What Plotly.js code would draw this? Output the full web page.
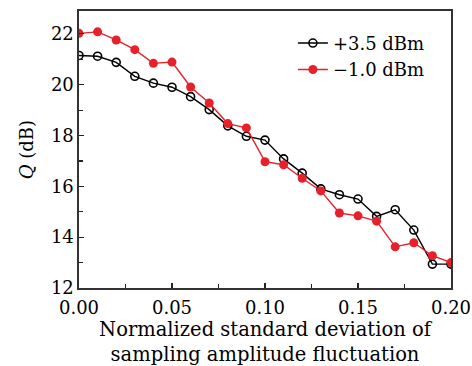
<!DOCTYPE html>
<html>
<head>
<meta charset="utf-8">
<script src="https://cdn.plot.ly/plotly-3.0.1.min.js"></script>
<style>html,body{margin:0;padding:0;background:#fff;}#chart{width:472px;height:366px;}</style>
</head>
<body>
<div id="chart"></div>
<script>
const xValues = [0.00, 0.01, 0.02, 0.03, 0.04, 0.05, 0.06, 0.07, 0.08, 0.09, 0.10, 0.11, 0.12, 0.13, 0.14, 0.15, 0.16, 0.17, 0.18, 0.19, 0.20];
const qPlus35 = [21.15, 21.12, 20.88, 20.33, 20.06, 19.9, 19.53, 19.02, 18.38, 17.97, 17.82, 17.08, 16.52, 15.9, 15.67, 15.5, 14.82, 15.08, 14.28, 12.94, 12.94];
const qMinus10 = [22.02, 22.08, 21.76, 21.38, 20.84, 20.89, 19.91, 19.28, 18.47, 18.3, 16.97, 16.85, 16.32, 15.82, 14.95, 14.84, 14.63, 13.62, 13.78, 13.27, 13.0];
const seriesNames = ['+3.5 dBm', '\u22121.0 dBm'];
const xTickVals = [0, 0.05, 0.10, 0.15, 0.20];
const xTickText = ['0.00', '0.05', '0.10', '0.15', '0.20'];
const yTickVals = [12, 14, 16, 18, 20, 22];

const font = 'DejaVu Serif, Liberation Serif, serif';

const traces = [
  {
    x: xValues, y: qPlus35, name: seriesNames[0], type: 'scatter', mode: 'lines+markers',
    line: {color: '#000000', width: 1.4},
    marker: {symbol: 'circle-open', size: 8, color: '#000000', line: {width: 1.6, color: '#000000'}}
  },
  {
    x: xValues, y: qMinus10, name: seriesNames[1], type: 'scatter', mode: 'lines+markers',
    line: {color: '#e8202a', width: 1.4},
    marker: {symbol: 'circle', size: 9, color: '#e8202a'}
  }
];

const layout = {
  width: 472, height: 366,
  margin: {l: 79, r: 21, t: 11, b: 78},
  paper_bgcolor: '#ffffff', plot_bgcolor: '#ffffff',
  font: {family: font, size: 18, color: '#000'},
  showlegend: true,
  legend: {x: 0.575, y: 0.95, xanchor: 'left', yanchor: 'top', bgcolor: 'rgba(0,0,0,0)',
           font: {family: font, size: 18}, tracegroupgap: 0},
  xaxis: {
    range: [0, 0.2], tickvals: xTickVals, ticktext: xTickText,
    ticks: 'inside', ticklen: 5, tickwidth: 1.2, tickcolor: '#222',
    ticklabelstandoff: 3,
    minor: {dtick: 0.025, ticks: 'inside', ticklen: 4, tickcolor: '#222', tickwidth: 1.2},
    showline: true, linecolor: '#333', linewidth: 1.6, mirror: true,
    showgrid: false, zeroline: false,
    tickfont: {family: font, size: 18},
    title: {text: 'Normalized standard deviation of<br>sampling amplitude fluctuation',
            font: {family: font, size: 19.5}, standoff: 12}
  },
  yaxis: {
    range: [12, 22.9], tickvals: yTickVals,
    ticks: 'inside', ticklen: 5, tickwidth: 1.2, tickcolor: '#222',
    minor: {dtick: 1, ticks: 'inside', ticklen: 4, tickcolor: '#222', tickwidth: 1.2},
    showline: true, linecolor: '#333', linewidth: 1.6, mirror: true,
    showgrid: false, zeroline: false,
    tickfont: {family: font, size: 18},
    title: {text: '<i>Q</i> (dB)', font: {family: font, size: 18}, standoff: 12}
  }
};

Plotly.newPlot('chart', traces, layout, {displayModeBar: false, staticPlot: true});
</script>
</body>
</html>
